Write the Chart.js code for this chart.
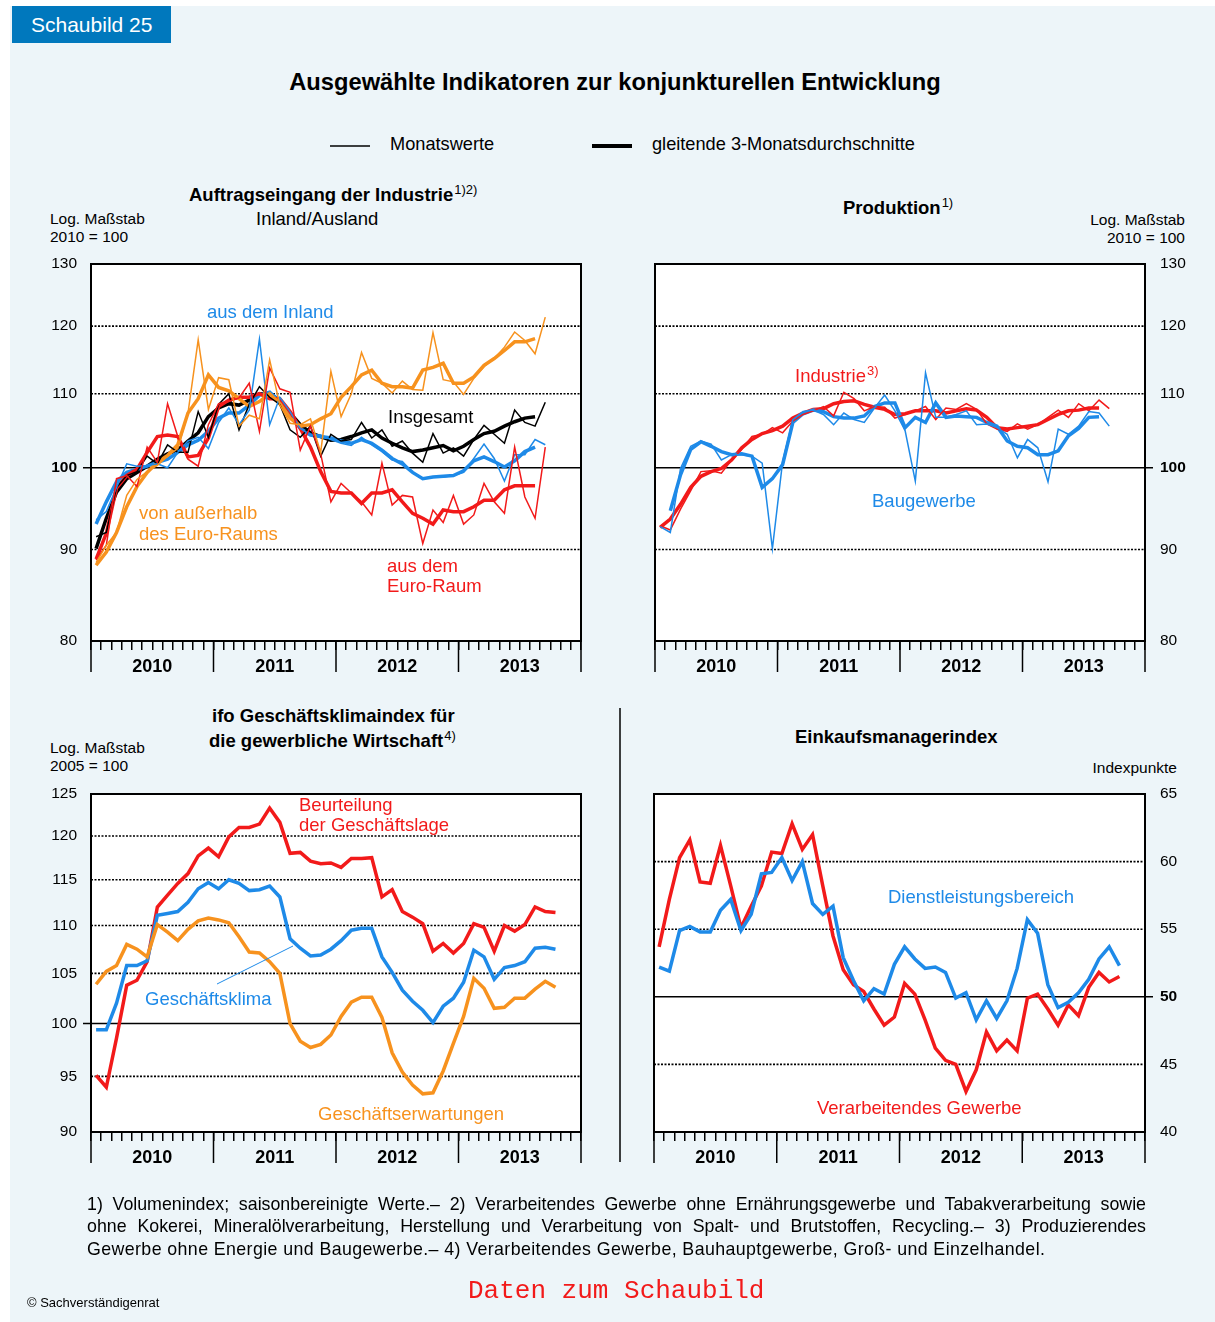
<!DOCTYPE html>
<html lang="de">
<head>
<meta charset="utf-8">
<title>Schaubild 25</title>
<script src="https://cdn.jsdelivr.net/npm/chart.js@4.4.1/dist/chart.umd.min.js"></script>
<style>
  html, body { margin: 0; padding: 0; background: #fff; }
  body { width: 1215px; height: 1322px; position: relative; overflow: hidden;
         font-family: "Liberation Sans", Arial, sans-serif; color: #000; }
  #bg { position: absolute; left: 10px; top: 6px; width: 1205px; height: 1316px; background: #edf5f9; }
  canvas { position: absolute; }
  .t { position: absolute; white-space: nowrap; font-size: 18.5px; line-height: 22px; }
  .b { font-weight: bold; }
  .s { font-size: 15.5px; line-height: 18px; }
  .sup { font-size: 13px; position: relative; top: -7px; font-weight: normal; margin-left: 1px; }
  .blue { color: #1e8ae8; } .red { color: #f21a1a; } .orange { color: #f7921e; }
  #badge { position: absolute; left: 12px; top: 6px; width: 159px; height: 37px; background: #0078bd;
           color: #fff; font-size: 21px; line-height: 37px; padding-left: 19px; box-sizing: border-box; }
  .foot { position: absolute; left: 87px; width: 1059px; font-size: 17.8px; line-height: 22px; white-space: nowrap; }
  .just { text-align: justify; text-align-last: justify; white-space: normal; }
  svg { position: absolute; left: 0; top: 0; }
</style>
</head>
<body>
<div id="bg"></div>
<div id="badge">Schaubild 25</div>
<div class="t b" style="left:0;width:1230px;text-align:center;top:68px;font-size:23.7px;line-height:28px">Ausgewählte Indikatoren zur konjunkturellen Entwicklung</div>
<div class="t" style="left:390px;top:133px;font-size:18.2px">Monatswerte</div>
<div class="t" style="left:652px;top:133px;font-size:18.2px">gleitende 3-Monatsdurchschnitte</div>

<div class="t b" style="left:189px;top:184px">Auftragseingang der Industrie<span class="sup">1)2)</span></div>
<div class="t" style="left:256px;top:208px">Inland/Ausland</div>
<div class="t s" style="left:50px;top:210px">Log. Maßstab</div>
<div class="t s" style="left:50px;top:228px">2010 = 100</div>

<div class="t b" style="left:843px;top:197px">Produktion<span class="sup">1)</span></div>
<div class="t s" style="right:30px;top:211px;text-align:right">Log. Maßstab</div>
<div class="t s" style="right:30px;top:229px;text-align:right">2010 = 100</div>

<div class="t b" style="left:212px;top:705px">ifo Geschäftsklimaindex für</div>
<div class="t b" style="left:209px;top:730px">die gewerbliche Wirtschaft<span class="sup">4)</span></div>
<div class="t s" style="left:50px;top:739px">Log. Maßstab</div>
<div class="t s" style="left:50px;top:757px">2005 = 100</div>

<div class="t b" style="left:795px;top:726px">Einkaufsmanagerindex</div>
<div class="t s" style="right:38px;top:759px">Indexpunkte</div>

<canvas id="c1" width="570" height="430" style="left:30px;top:250px"></canvas>
<canvas id="c2" width="600" height="430" style="left:600px;top:250px"></canvas>
<canvas id="c3" width="570" height="400" style="left:30px;top:780px"></canvas>
<canvas id="c4" width="600" height="400" style="left:600px;top:780px"></canvas>

<svg width="1215" height="1322">
  <line x1="330" y1="146" x2="370" y2="146" stroke="#000" stroke-width="1.5"/>
  <line x1="592" y1="146" x2="632" y2="146" stroke="#000" stroke-width="4"/>
  <line x1="620" y1="708" x2="620" y2="1162" stroke="#000" stroke-width="1.5"/>
  <line x1="217" y1="984" x2="293" y2="946" stroke="#1e8ae8" stroke-width="1"/>
</svg>

<div class="t blue" style="left:207px;top:301px">aus dem Inland</div>
<div class="t" style="left:388px;top:406px">Insgesamt</div>
<div class="t orange" style="left:139px;top:502px">von außerhalb</div>
<div class="t orange" style="left:139px;top:523px">des Euro-Raums</div>
<div class="t red" style="left:387px;top:555px">aus dem</div>
<div class="t red" style="left:387px;top:575px">Euro-Raum</div>
<div class="t red" style="left:795px;top:365px">Industrie<span class="sup">3)</span></div>
<div class="t blue" style="left:872px;top:490px">Baugewerbe</div>
<div class="t red" style="left:299px;top:794px">Beurteilung</div>
<div class="t red" style="left:299px;top:814px">der Geschäftslage</div>
<div class="t blue" style="left:145px;top:988px">Geschäftsklima</div>
<div class="t orange" style="left:318px;top:1103px">Geschäftserwartungen</div>
<div class="t blue" style="left:888px;top:886px">Dienstleistungsbereich</div>
<div class="t red" style="left:817px;top:1097px">Verarbeitendes Gewerbe</div>

<div class="foot just" style="top:1193px">1) Volumenindex; saisonbereinigte Werte.– 2) Verarbeitendes Gewerbe ohne Ernährungsgewerbe und Tabakverarbeitung sowie</div>
<div class="foot just" style="top:1215px">ohne Kokerei, Mineralölverarbeitung, Herstellung und Verarbeitung von Spalt- und Brutstoffen, Recycling.– 3) Produzierendes</div>
<div class="foot" style="top:1238px;letter-spacing:0.4px">Gewerbe ohne Energie und Baugewerbe.– 4) Verarbeitendes Gewerbe, Bauhauptgewerbe, Groß- und Einzelhandel.</div>
<div class="t" style="left:468px;top:1275px;font-family:'Liberation Mono',monospace;font-size:26px;line-height:32px;color:#f21a1a">Daten zum Schaubild</div>
<div class="t" style="left:27px;top:1295px;font-size:13px;line-height:16px">© Sachverständigenrat</div>

<script>
// months Jan 2010 .. Dec 2013
const months = [];
for (let y = 2010; y <= 2013; y++) for (let m = 1; m <= 12; m++) months.push(y + '-' + String(m).padStart(2, '0'));
const years = ['2010', '2011', '2012', '2013'];

// Auftragseingang (2010 = 100), Monatswerte bis Sep 2013, 3-Monatsdurchschnitte bis Aug 2013
const auftragGesamtM = [91.5, 92, 97.5, 99, 99.5, 101.5, 100.5, 103, 102, 102, 107.5, 104, 108.5, 110, 105, 108.5, 111, 109.5, 108.5, 105, 104, 105.5, 101.5, 104.4, 103.5, 103.7, 106, 103.9, 105, 102.8, 103.5, 101.9, 100.7, 104.5, 101.9, 102.6, 101.5, 103.7, 105.6, 104.4, 103.2, 107.7, 106, 105.5, 108.8];
const auftragGesamtA = [90.1, 93.7, 96.9, 98.6, 99.4, 100.2, 101.1, 101.8, 102.3, 103.5, 104.6, 106.8, 108, 108.6, 108.4, 109.1, 110, 110, 109.1, 107.3, 105.7, 104.6, 104.1, 103.6, 103.7, 104.1, 104.6, 105, 103.9, 103.2, 102.6, 102.1, 102.3, 102.6, 102.9, 102.2, 102.8, 103.7, 104.5, 104.8, 105.5, 106.1, 106.6, 106.8];
const auftragInlandM = [93.5, 94.5, 97.5, 100.5, 100.2, 100.3, 100.5, 100, 102, 103.5, 104, 102.5, 106, 108, 105.7, 107.7, 118, 105.7, 109.5, 107.5, 105.2, 104.3, 104.3, 103.7, 103.2, 102.9, 104, 103, 102.1, 101, 100.8, 99.4, 98.6, 98.8, 98.8, 99, 99.4, 101.2, 103.1, 101.2, 98.3, 101.7, 101.7, 103.7, 103];
const auftragInlandA = [93, 95.7, 98.2, 99.4, 99.8, 100.2, 100.7, 101.1, 102, 103, 103.6, 104.8, 106.6, 107.3, 107.3, 108.4, 109.8, 110.2, 108.9, 107, 105.2, 104.3, 104.1, 103.9, 103.5, 103.2, 103.7, 103.2, 102.3, 101.2, 100.5, 99.4, 98.6, 98.8, 98.9, 99, 99.6, 100.9, 101.4, 100.8, 100.1, 100.9, 102.1, 102.7];
const auftragEuroM = [88.8, 90.5, 98.6, 99, 97.6, 102.7, 100.7, 108.6, 104.1, 101.1, 100.2, 105.7, 108.6, 108.9, 109.4, 111.5, 104.8, 113.7, 110.7, 110.2, 102.3, 105.5, 101.8, 95.7, 98, 96.8, 95.7, 94.1, 100.6, 95.3, 96.5, 96.3, 90.7, 94.7, 93.2, 96.5, 93, 94.1, 98, 95.7, 94.3, 102.7, 96.3, 93.7, 102.7];
const auftragEuroA = [88.9, 91.9, 97.4, 99, 99.8, 102, 104.1, 104.3, 104.1, 101.4, 101.6, 103.9, 108.2, 109.1, 109.5, 109.5, 110, 109.3, 109.3, 107.5, 105.2, 102.7, 99.5, 97, 96.8, 96.8, 95.5, 96.8, 96.8, 97.2, 95.7, 94.3, 93.7, 93, 94.7, 94.5, 94.5, 95.1, 95.9, 95.9, 97.2, 97.7, 97.7, 97.7];
const auftragAuslandM = [88.5, 90.5, 92, 96.5, 98.5, 99.5, 100.3, 101.5, 102.5, 107.3, 117.9, 107.8, 112.3, 112, 105.5, 107, 106.5, 114.9, 108.4, 105.9, 105.7, 106.5, 102, 113.2, 106.8, 110, 116, 112.2, 111.5, 110.1, 111.8, 110.6, 110.5, 119, 112, 111.7, 109.9, 112.2, 113.9, 115.1, 116.8, 119.1, 117.8, 115.8, 121.4];
const auftragAuslandA = [88.2, 89.7, 92, 95.1, 97.6, 99.4, 100.7, 101.6, 103, 107.3, 109.3, 112.7, 110.9, 110.4, 109.3, 108.2, 108.9, 110, 108.6, 106.6, 105.5, 105.7, 106.5, 107.2, 109.5, 111, 112.7, 113.4, 111.5, 111, 111, 110.8, 113.4, 113.8, 114.4, 111.5, 111.5, 112.4, 114.1, 115.1, 116.3, 117.6, 117.6, 118.1];

// Produktion (2010 = 100)
const prodIndustrieM = [92.8, 92.3, 94.8, 97.1, 99.5, 99.6, 99.3, 101, 102.4, 104.1, 104.4, 105.3, 104.6, 106.2, 107.1, 107.6, 108.2, 106.9, 110.2, 109.3, 107.6, 108.2, 108.1, 106.6, 107.1, 107.6, 108.2, 106.4, 108, 107.8, 108.6, 107.8, 105.8, 105.1, 104.8, 105.8, 105.1, 105.7, 106.7, 107.7, 106.7, 108.6, 107.6, 109.1, 107.9];
const prodIndustrieA = [92.6, 93.6, 95.4, 97.5, 98.9, 99.5, 99.9, 101, 102.6, 103.7, 104.5, 104.9, 105.5, 106.6, 107.3, 107.8, 107.9, 108.6, 108.9, 109, 108.5, 108.1, 107.8, 107.1, 107.2, 107.6, 107.6, 107.6, 107.3, 107.6, 107.9, 107.7, 106.7, 105.3, 105.1, 105.3, 105.5, 105.7, 106.4, 107.1, 107.6, 107.7, 108, 108];
const prodBauM = [92.7, 92, 99.9, 102.8, 103.5, 103.1, 101, 101.7, 101.7, 101.5, 100.6, 90.1, 100.8, 106.4, 107.5, 107.7, 107.1, 105.7, 107.3, 106.4, 106, 108, 109.8, 107.6, 104.9, 98.3, 113, 106.7, 106.7, 107.1, 107.6, 105.7, 105.8, 105.3, 104.4, 101.3, 103.7, 102.6, 98.2, 105.1, 104.4, 105.5, 107.5, 107.3, 105.5];
const prodBauA = [null, 94.6, 99.1, 102.4, 103.4, 102.8, 102.1, 101.7, 101.8, 101.5, 97.5, 98.6, 100.4, 106, 107.2, 107.7, 107.5, 106.8, 106.6, 106.6, 106.9, 108.2, 108.7, 108.7, 105.3, 106.7, 106, 108.7, 106.7, 106.9, 106.8, 106.7, 106, 105.5, 103.5, 102.8, 102.6, 101.7, 101.7, 102.2, 104.2, 105.2, 106.7, 106.8];

// ifo Geschäftsklima (2005 = 100), bis Okt 2013
const ifoLage = [95.1, 94, 98.6, 103.8, 104.3, 106.2, 112, 113.3, 114.6, 115.7, 117.7, 118.6, 117.6, 119.9, 121, 121, 121.4, 123.3, 121.6, 118, 118.1, 117.1, 116.8, 116.9, 116.4, 117.4, 117.4, 117.5, 113.1, 113.9, 111.5, 110.9, 110.2, 107.3, 108.1, 107.1, 108.1, 110.2, 109.8, 107.3, 110, 109.4, 110.1, 112, 111.5, 111.4];
const ifoKlima = [99.4, 99.4, 102, 105.8, 105.8, 106.3, 111.1, 111.3, 111.5, 112.5, 114, 114.7, 114, 115, 114.6, 113.8, 113.9, 114.3, 113.1, 108.6, 107.6, 106.8, 106.9, 107.5, 108.4, 109.5, 109.7, 109.7, 106.7, 105.1, 103.3, 102.2, 101.3, 100.1, 101.7, 102.5, 104.1, 107.4, 106.7, 104.4, 105.6, 105.8, 106.2, 107.6, 107.7, 107.5];
const ifoErwartung = [103.9, 105.2, 105.8, 108, 107.5, 106.7, 110.1, 109.3, 108.4, 109.6, 110.5, 110.8, 110.6, 110.3, 108.8, 107.2, 107.1, 106.2, 105, 100, 98.3, 97.7, 98, 98.9, 100.7, 102.1, 102.6, 102.6, 100.6, 97.2, 95.4, 94.2, 93.4, 93.5, 95.5, 98.1, 100.7, 104.5, 103.5, 101.5, 101.6, 102.5, 102.5, 103.4, 104.2, 103.6];

// Einkaufsmanagerindex (Indexpunkte), bis Okt 2013
const pmiIndustrie = [53.7, 57.2, 60.3, 61.6, 58.5, 58.4, 61.2, 58.2, 55.1, 56.7, 58.2, 60.7, 60.6, 62.8, 60.9, 62, 58.2, 54.5, 52, 50.9, 50.4, 49.1, 47.9, 48.5, 51, 50.2, 48.3, 46.2, 45.3, 45, 43, 44.6, 47.4, 46, 46.8, 46, 49.9, 50.2, 49.1, 47.9, 49.4, 48.6, 50.7, 51.8, 51.1, 51.5];
const pmiDienste = [52.2, 51.9, 54.9, 55.2, 54.8, 54.8, 56.4, 57.2, 54.9, 56.1, 59.1, 59.2, 60.3, 58.6, 60, 56.9, 56.1, 56.7, 52.9, 51.2, 49.7, 50.6, 50.2, 52.4, 53.7, 52.8, 52.1, 52.2, 51.8, 49.9, 50.3, 48.3, 49.7, 48.4, 49.7, 52.1, 55.7, 54.7, 50.9, 49.2, 49.6, 50.3, 51.3, 52.8, 53.7, 52.3];

// tick labels
const ticksAuftrag = [80, 90, 100, 110, 120, 130];
const ticksIfo = [90, 95, 100, 105, 110, 115, 120, 125];
const ticksPmi = [40, 45, 50, 55, 60, 65];

const FONT = '"Liberation Sans", Arial, sans-serif';
const BLUE = '#1e8ae8', RED = '#f21a1a', ORANGE = '#f7921e', BLACK = '#000';

const pts = arr => arr.map((v, i) => ({ x: i + 0.5, y: v }));

const line = (arr, color, width) => ({
    data: pts(arr),
    borderColor: color,
    borderWidth: width,
    pointRadius: 0,
    tension: 0,
    fill: false
});

// white plot area, dotted grid, solid base line, frame and year separators
const framePlugin = {
    id: 'frame',
    beforeDatasetsDraw(chart, args, o) {
        const { ctx, chartArea: a, scales: { y } } = chart;
        ctx.save();
        ctx.fillStyle = '#fff';
        ctx.fillRect(a.left, a.top, a.width, a.height);
        ctx.strokeStyle = '#000';
        ctx.lineWidth = 1.6;
        ctx.setLineDash([2, 1.5]);
        o.dotted.forEach(v => {
            const py = y.getPixelForValue(v);
            ctx.beginPath();
            ctx.moveTo(a.left, py);
            ctx.lineTo(a.right, py);
            ctx.stroke();
        });
        ctx.setLineDash([]);
        ctx.lineWidth = 1.5;
        const pb = y.getPixelForValue(o.base);
        ctx.beginPath();
        ctx.moveTo(a.left - o.extL, pb);
        ctx.lineTo(a.right + o.extR, pb);
        ctx.stroke();
        ctx.restore();
    },
    afterDatasetsDraw(chart) {
        const { ctx, chartArea: a, scales: { x } } = chart;
        ctx.save();
        ctx.strokeStyle = '#000';
        ctx.lineWidth = 2;
        ctx.strokeRect(a.left, a.top, a.width, a.height);
        ctx.lineWidth = 1.5;
        [0, 12, 24, 36, 48].forEach(v => {
            const px = x.getPixelForValue(v);
            ctx.beginPath();
            ctx.moveTo(px, a.bottom);
            ctx.lineTo(px, a.bottom + 31);
            ctx.stroke();
        });
        ctx.restore();
    }
};

function makeChart(id, p) {
    new Chart(document.getElementById(id), {
        type: 'line',
        data: { datasets: p.datasets },
        plugins: [framePlugin],
        options: {
            responsive: false,
            animation: false,
            devicePixelRatio: 1,
            events: [],
            layout: { padding: p.padding },
            plugins: {
                legend: { display: false },
                tooltip: { enabled: false },
                frame: p.frame
            },
            scales: {
                x: {
                    type: 'linear',
                    min: 0,
                    max: months.length,
                    afterBuildTicks: s => { s.ticks = months.map((m, i) => ({ value: i })).concat([{ value: months.length }]); },
                    afterFit: s => { s.height = p.xHeight; },
                    border: { display: false },
                    grid: { display: true, drawOnChartArea: false, drawTicks: true, tickLength: 9, tickColor: '#000', tickWidth: 1.5, color: '#000', lineWidth: 1.5 },
                    ticks: {
                        autoSkip: false, maxRotation: 0, minRotation: 0, padding: 6, color: '#000',
                        font: { family: FONT, size: 18, weight: 'bold' },
                        callback: v => (v % 12 === 6 ? years[(v - 6) / 12] : '')
                    }
                },
                y: {
                    type: p.yType,
                    position: p.yPos,
                    min: p.yTicks[0],
                    max: p.yTicks[p.yTicks.length - 1],
                    afterBuildTicks: s => { s.ticks = p.yTicks.map(v => ({ value: v })); },
                    afterFit: s => { s.width = p.yWidth; },
                    border: { display: false },
                    // hidden tick marks only push the labels away from the frame
                    grid: { display: false, drawTicks: true, tickLength: p.yPad },
                    ticks: {
                        padding: 0, color: '#000',
                        font: c => ({ family: FONT, size: 15.5, weight: c.tick && c.tick.value === p.boldTick ? 'bold' : 'normal' }),
                        callback: v => String(v)
                    }
                }
            }
        }
    });
}

makeChart('c1', {
    padding: { top: 14, right: 19, left: 0, bottom: 0 },
    xHeight: 39, yType: 'logarithmic', yPos: 'left', yTicks: ticksAuftrag, yWidth: 61, yPad: 14, boldTick: 100,
    frame: { dotted: [90, 110, 120], base: 100, extL: 8, extR: 0 },
    datasets: [
        line(auftragAuslandM, ORANGE, 1.5),
        line(auftragEuroM, RED, 1.5),
        line(auftragInlandM, BLUE, 1.5),
        line(auftragGesamtM, BLACK, 1.5),
        line(auftragAuslandA, ORANGE, 3.5),
        line(auftragEuroA, RED, 3.5),
        line(auftragInlandA, BLUE, 3.5),
        line(auftragGesamtA, BLACK, 3.5)
    ]
});

makeChart('c2', {
    padding: { top: 14, right: 0, left: 55, bottom: 0 },
    xHeight: 39, yType: 'logarithmic', yPos: 'right', yTicks: ticksAuftrag, yWidth: 55, yPad: 15, boldTick: 100,
    frame: { dotted: [90, 110, 120], base: 100, extL: 0, extR: 8 },
    datasets: [
        line(prodBauM, BLUE, 1.5),
        line(prodIndustrieM, RED, 1.5),
        line(prodBauA, BLUE, 3.5),
        line(prodIndustrieA, RED, 3.5)
    ]
});

makeChart('c3', {
    padding: { top: 14, right: 19, left: 0, bottom: 0 },
    xHeight: 48, yType: 'logarithmic', yPos: 'left', yTicks: ticksIfo, yWidth: 61, yPad: 14, boldTick: null,
    frame: { dotted: [95, 105, 110, 115, 120], base: 100, extL: 8, extR: 0 },
    datasets: [
        line(ifoErwartung, ORANGE, 3.5),
        line(ifoKlima, BLUE, 3.5),
        line(ifoLage, RED, 3.5)
    ]
});

makeChart('c4', {
    padding: { top: 14, right: 0, left: 54, bottom: 0 },
    xHeight: 48, yType: 'linear', yPos: 'right', yTicks: ticksPmi, yWidth: 55, yPad: 15, boldTick: 50,
    frame: { dotted: [45, 55, 60], base: 50, extL: 0, extR: 8 },
    datasets: [
        line(pmiDienste, BLUE, 3.5),
        line(pmiIndustrie, RED, 3.5)
    ]
});
</script>
</body>
</html>
